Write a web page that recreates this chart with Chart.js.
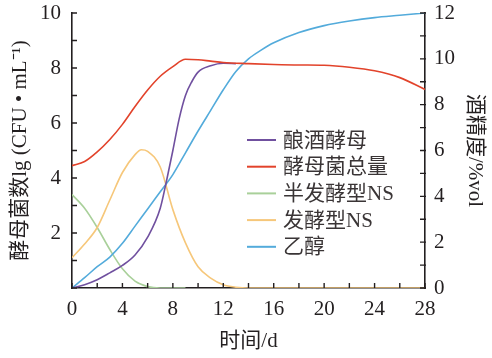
<!DOCTYPE html>
<html>
<head>
<meta charset="utf-8">
<script src="https://cdn.jsdelivr.net/npm/chart.js@4.4.1/dist/chart.umd.min.js"></script>
<style>
html,body{margin:0;padding:0;background:#fff;}
#wrap{width:492px;height:358px;}
</style>
</head>
<body>
<div id="wrap"><canvas id="c" width="492" height="358"></canvas></div>
<script>
// ---- data ----
const seriesNames = ['酿酒酵母', '酵母菌总量', '半发酵型NS', '发酵型NS', '乙醇'];

const saccDays   = [0, 1, 2, 3, 4, 5, 6, 7, 7.5, 8, 8.5, 9, 9.5, 10, 11, 12, 13];
const saccValues = [0, 0.12, 0.3, 0.55, 0.82, 1.2, 1.85, 2.9, 3.9, 5.0, 6.15, 7.0, 7.5, 7.85, 8.08, 8.17, 8.16];

const totalDays   = [0, 1, 2, 3, 4, 5, 6, 7, 8, 9, 10, 11, 12, 14, 16, 18, 20, 22, 24, 26, 28];
const totalValues = [4.45, 4.6, 4.95, 5.4, 5.95, 6.6, 7.2, 7.7, 8.05, 8.32, 8.3, 8.25, 8.2, 8.16, 8.13, 8.11, 8.1, 8.03, 7.9, 7.65, 7.22];

const semiDays   = [0, 1, 2, 3, 4, 5, 6, 7, 8, 9];
const semiValues = [3.4, 2.9, 2.2, 1.4, 0.7, 0.25, 0.05, 0, 0, 0];

const fermDays   = [0, 1, 2, 3, 4, 5, 5.5, 6, 7, 8, 9, 10, 11, 12, 13, 14, 16, 20, 24, 28];
const fermValues = [1.1, 1.6, 2.2, 3.2, 4.2, 4.85, 5.03, 4.97, 4.4, 2.85, 1.64, 0.77, 0.36, 0.12, 0.03, 0, 0, 0, 0, 0];

const ethDays   = [0, 1, 2, 3, 4, 5, 6, 7, 8, 9, 10, 11, 12, 13, 14, 15, 16, 18, 20, 22, 24, 26, 28];
const ethValues = [0, 0.45, 0.93, 1.35, 1.95, 2.7, 3.45, 4.2, 4.95, 5.9, 6.85, 7.75, 8.65, 9.45, 10.0, 10.38, 10.7, 11.15, 11.45, 11.65, 11.8, 11.9, 12.0];

const xTickLabels  = [0, 4, 8, 12, 16, 20, 24, 28];
const yTickLabels  = [2, 4, 6, 8, 10];
const y1TickLabels = [0, 2, 4, 6, 8, 10, 12];

const axisTitleX  = '时间/d';
const axisTitleY  = '酵母菌数lg (CFU • mL⁻¹)';
const axisTitleY1 = '酒精度/%vol';

const colors = ['#70509f', '#e2432b', '#a9d09a', '#f6c77a', '#53abdb'];
// -----------------------------------------

const pts = (xs, ys) => xs.map((x, i) => ({x: x, y: ys[i]}));
const FONT = "'Liberation Serif', 'Noto Sans CJK SC', serif";
const INK = '#231f20';

function mk(i, xs, ys, axis, order) {
  return {
    label: seriesNames[i], data: pts(xs, ys), yAxisID: axis,
    borderColor: colors[i], backgroundColor: colors[i], borderWidth: 1.6,
    pointRadius: 0, fill: false, cubicInterpolationMode: 'monotone', order: order
  };
}

const innerTicks = {
  id: 'innerTicks',
  afterDraw(chart) {
    const ctx = chart.ctx, L = 5;
    ctx.save();
    ctx.strokeStyle = INK; ctx.lineWidth = 1.4;
    const sx = chart.scales.x, sy = chart.scales.y, sy1 = chart.scales.y1;
    ctx.beginPath();
    sx.ticks.forEach(t => { const p = sx.getPixelForValue(t.value); ctx.moveTo(p, sx.top); ctx.lineTo(p, sx.top - L); });
    sy.ticks.forEach(t => { const p = sy.getPixelForValue(t.value); ctx.moveTo(sy.right - 1, p); ctx.lineTo(sy.right + L, p); });
    sy1.ticks.forEach(t => { const p = sy1.getPixelForValue(t.value); ctx.moveTo(sy1.left + 1, p); ctx.lineTo(sy1.left - L, p); });
    ctx.stroke();
    ctx.restore();
  }
};

const innerLegend = {
  id: 'innerLegend',
  afterDraw(chart) {
    const ctx = chart.ctx;
    ctx.save();
    ctx.font = '21px ' + FONT;
    ctx.textBaseline = 'middle';
    ctx.textAlign = 'left';
    const order = [0, 1, 2, 3, 4];
    order.forEach((k, i) => {
      const ds = chart.data.datasets.find(d => d.label === seriesNames[k]);
      const y = 140 + i * 26.7;
      ctx.strokeStyle = ds.borderColor; ctx.lineWidth = 2;
      ctx.beginPath(); ctx.moveTo(247, y); ctx.lineTo(276, y); ctx.stroke();
      ctx.fillStyle = '#3a3536';
      ctx.fillText(ds.label, 283, y + 1);
    });
    ctx.restore();
  }
};

const tickFont = {family: FONT, size: 21};

new Chart(document.getElementById('c'), {
  type: 'line',
  data: {
    datasets: [
      mk(1, totalDays, totalValues, 'y', 0),
      mk(0, saccDays, saccValues, 'y', 1),
      mk(4, ethDays, ethValues, 'y1', 2),
      mk(3, fermDays, fermValues, 'y', 3),
      mk(2, semiDays, semiValues, 'y', 4)
    ]
  },
  options: {
    responsive: false,
    animation: false,
    devicePixelRatio: 1,
    layout: {padding: {top: 13, left: 0, right: 0, bottom: 0}},
    plugins: {legend: {display: false}, tooltip: {enabled: false}},
    scales: {
      x: {
        type: 'linear', min: 0, max: 28,
        afterFit(s) { s.height = 70; s.paddingLeft = 0; s.paddingRight = 0; },
        grid: {display: true, drawOnChartArea: false, drawTicks: false},
        border: {display: true, color: INK, width: 1.6},
        ticks: {
          stepSize: 2, autoSkip: false, maxRotation: 0, padding: 9, color: INK, font: tickFont,
          callback: v => xTickLabels.includes(v) ? String(v) : ''
        },
        title: {display: true, text: axisTitleX, color: INK, font: {family: FONT, size: 21}, padding: {top: 0, bottom: 4}}
      },
      y: {
        type: 'linear', position: 'left', min: 0, max: 10,
        afterFit(s) { s.width = 72; s.paddingTop = 0; s.paddingBottom = 0; },
        grid: {display: true, drawOnChartArea: false, drawTicks: false},
        border: {display: true, color: INK, width: 1.6},
        ticks: {
          stepSize: 1, autoSkip: false, padding: 11, color: INK, font: tickFont,
          callback: v => yTickLabels.includes(v) ? String(v) : ''
        },
        title: {display: true, text: axisTitleY, color: INK, font: {family: FONT, size: 21}, padding: {top: 8, bottom: 0}}
      },
      y1: {
        type: 'linear', position: 'right', min: 0, max: 12,
        afterFit(s) { s.width = 67; s.paddingTop = 0; s.paddingBottom = 0; },
        grid: {display: true, drawOnChartArea: false, drawTicks: false},
        border: {display: true, color: INK, width: 1.6},
        ticks: {
          stepSize: 1, autoSkip: false, padding: 9, color: INK, font: tickFont,
          callback: v => y1TickLabels.includes(v) ? String(v) : ''
        },
        title: {display: true, text: axisTitleY1, color: INK, font: {family: FONT, size: 21}, padding: {top: 5, bottom: 0}}
      }
    }
  },
  plugins: [innerTicks, innerLegend]
});
</script>
</body>
</html>
